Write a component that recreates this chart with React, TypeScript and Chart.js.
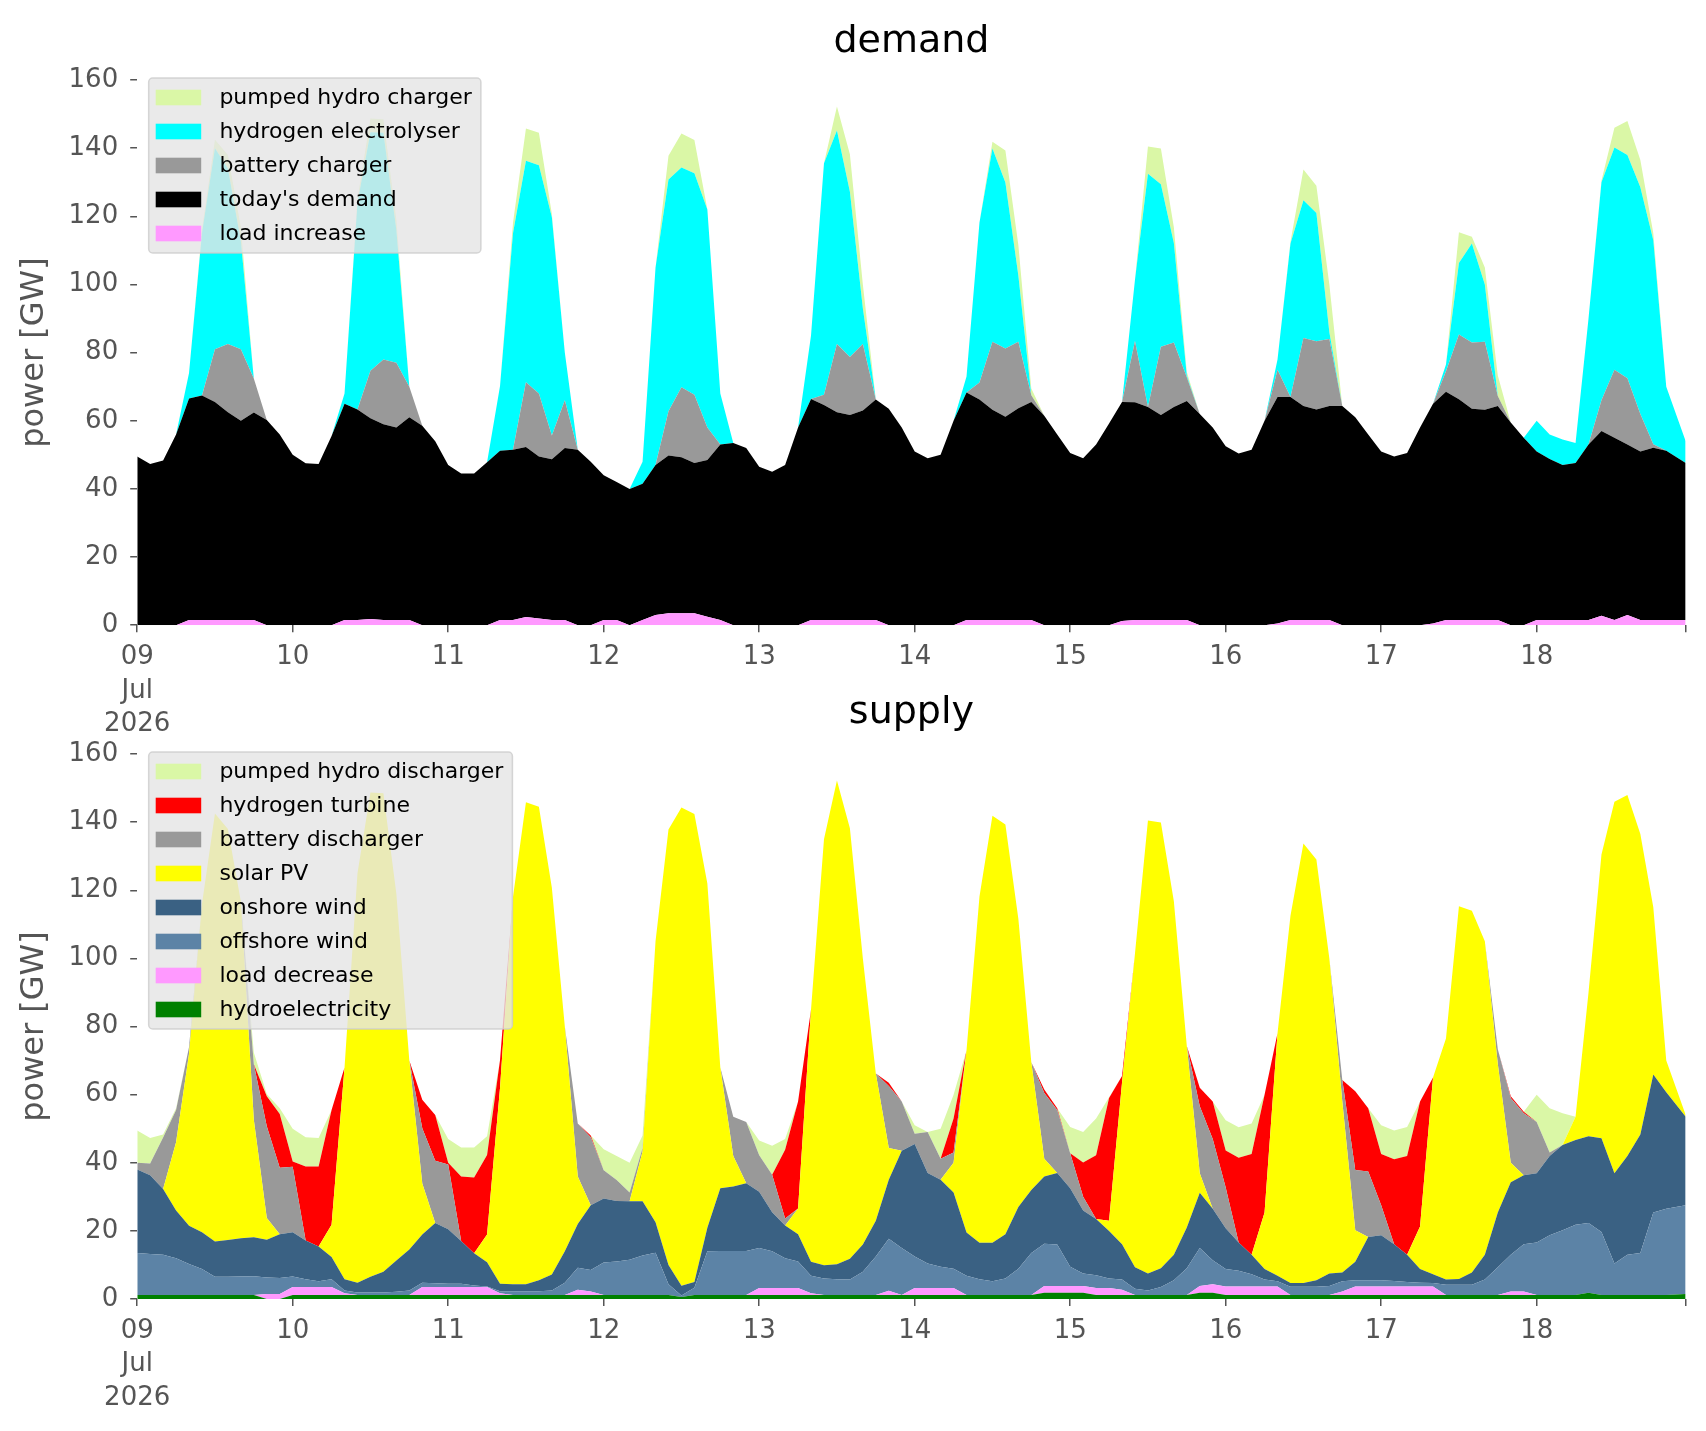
import React, { useEffect, useRef } from 'react';
import { Chart, registerables } from 'chart.js';

Chart.register(...registerables);

const FONT = "'DejaVu Sans', 'Liberation Sans', sans-serif";
Chart.defaults.font.family = FONT;

// time axis: hours since 09 Jul 2026 00:00, 2-hourly samples (last sample 18 Jul 23:00)
const HOURS: number[] = Array.from({ length: 120 }, (_, i) => (i === 119 ? 239 : i * 2));
const DAY_TICKS = [0, 24, 48, 72, 96, 120, 144, 168, 192, 216, 239];
const DAY_LABELS = ['09', '10', '11', '12', '13', '14', '15', '16', '17', '18'];
const FIRST_TICK_LABEL = ['09', 'Jul', '2026'];
const Y_TICKS_MAX = 160;
const Y_TICK_STEP = 20;

// ---------------- demand (GW) ----------------
const loadIncrease = [
  0, 0, 0, 0, 1.5, 1.5, 1.5, 1.5, 1.5, 1.5, 0, 0,
  0, 0, 0, 0, 1.5, 1.5, 1.8, 1.5, 1.5, 1.5, 0, 0,
  0, 0, 0, 0, 1.5, 1.5, 2.4, 2.0, 1.5, 1.5, 0, 0,
  1.5, 1.5, 0, 1.5, 3.0, 3.5, 3.5, 3.5, 2.5, 1.5, 0, 0,
  0, 0, 0, 0, 1.5, 1.5, 1.5, 1.5, 1.5, 1.5, 0, 0,
  0, 0, 0, 0, 1.5, 1.5, 1.5, 1.5, 1.5, 1.5, 0, 0,
  0, 0, 0, 0, 1.2, 1.5, 1.5, 1.5, 1.5, 1.5, 0, 0,
  0, 0, 0, 0, 0.5, 1.5, 1.5, 1.5, 1.5, 0, 0, 0,
  0, 0, 0, 0, 0.5, 1.5, 1.5, 1.5, 1.5, 1.5, 0, 0,
  1.5, 1.5, 1.5, 1.5, 1.5, 2.8, 1.5, 3.0, 1.5, 1.5, 1.5, 1.5,
];
const todaysDemand = [
  49.5, 47.3, 48.3, 56, 65, 65.9, 64, 61, 58.5, 60.9, 60.2, 56,
  50, 47.5, 47.3, 55.5, 63.5, 61.8, 58.9, 57.5, 56.5, 59.5, 58.5, 54,
  47, 44.5, 44.5, 47.8, 49.7, 50, 49.9, 47.5, 47.2, 50.5, 51.5, 48,
  42.5, 40.5, 40, 40, 44, 46.3, 45.8, 44.1, 46, 51.5, 53.5, 52,
  46.5, 45, 47, 58, 64.9, 63.1, 61, 60.2, 61.5, 64.7, 63.5, 58,
  51, 49, 50, 60, 66.8, 64.7, 61.7, 59.7, 62.2, 64, 61.5, 56,
  50.5, 49, 53, 59.2, 64.3, 63.9, 62.5, 60.2, 62.5, 64.3, 62, 58,
  52.5, 50.4, 51.5, 60, 66.5, 65.5, 62.8, 61.8, 62.8, 64.3, 61, 56,
  51, 49.5, 50.5, 58, 64.5, 67, 64.8, 62, 61.7, 62.8, 59.5, 55,
  49.5, 47.3, 45.5, 46.1, 51.5, 54.2, 53.5, 50, 49.5, 50.6, 49.7, 46.1,
];
const batteryCharger = [
  0, 0, 0, 0, 0, 0, 15.5, 20, 21, 10, 0, 0,
  0, 0, 0, 0, 0, 0, 14, 19, 19, 9, 0, 0,
  0, 0, 0, 0, 0, 0, 19, 18.5, 7, 14, 0, 0,
  0, 0, 0, 0, 0, 13, 20.5, 20, 9.5, 0, 0, 0,
  0, 0, 0, 0, 0, 3, 20, 17, 19.5, 0, 0, 0,
  0, 0, 0, 0, 0, 5, 20, 20, 19.5, 2, 0, 0,
  0, 0, 0, 0, 0, 18, 0, 20, 19, 7, 0, 0,
  0, 0, 0, 0, 8, 0, 20, 20, 19.7, 0, 0, 0,
  0, 0, 0, 0, 0, 6, 19, 19.5, 20, 3, 0, 0,
  0, 0, 0, 0, 0, 9, 20, 19.5, 11, 1, 0, 0,
];
const hydrogenElectrolyser = [
  0, 0, 0, 0, 7.5, 47.6, 59, 51.5, 31.7, 0, 0, 0,
  0, 0, 0, 0, 3, 60.7, 70, 66.5, 39, 0, 0, 0,
  0, 0, 0, 0, 19, 63.5, 65, 67, 64, 14, 0, 0,
  0, 0, 0, 6.5, 58, 68, 64.5, 65, 64, 15, 0, 0,
  0, 0, 0, 0, 18.6, 68, 62.7, 48.5, 10.5, 0, 0, 0,
  0, 0, 0, 0, 4.7, 47, 56.7, 48.7, 19.4, 0, 0, 0,
  0, 0, 0, 0, 0, 18, 68.5, 47.7, 29.2, 0.5, 0, 0,
  0, 0, 0, 0, 3, 45, 40.4, 37.7, 2, 0, 0, 0,
  0, 0, 0, 0, 0, 2, 21, 29, 16.8, 0, 0, 0,
  9, 7.2, 7.5, 5.9, 37, 64, 65.2, 65.5, 66.5, 59.9, 18.8, 6.4,
];
const pumpedHydroCharger = [
  0, 0, 0, 0, 0, 1, 2.5, 4, 4, 0, 0, 0,
  0, 0, 0, 0, 0, 1, 4, 4, 3, 0, 0, 0,
  0, 0, 0, 0, 0, 3, 9.5, 9.5, 1, 0, 0, 0,
  0, 0, 0, 0, 0, 7, 10, 9.8, 0, 0, 0, 0,
  0, 0, 0, 0, 0, 0, 7, 11, 7, 0, 0, 0,
  0, 0, 0, 0, 0, 0, 2, 9.4, 9, 2, 0, 0,
  0, 0, 0, 0, 0, 0, 8, 10.5, 4.6, 1, 0, 0,
  0, 0, 0, 0, 0, 0.5, 9, 8, 14, 0, 0, 0,
  0, 0, 0, 0, 0, 0, 9, 2, 5, 6, 0, 0,
  0, 0, 0, 0, 0, 0.5, 5.8, 10, 8, 2, 0, 0,
];

// ---------------- supply (GW) ----------------
const hydroelectricity = [
  1.2, 1.2, 1.2, 1.2, 1.2, 1.2, 1.2, 1.2, 1.2, 1.2, 0, 0,
  1.2, 1.2, 1.2, 1.2, 1.2, 1.2, 1.2, 1.2, 1.2, 1.2, 1.2, 1.2,
  1.2, 1.2, 1.2, 1.2, 1.2, 1.2, 1.2, 1.2, 1.2, 1.2, 1.2, 1.2,
  1.2, 1.2, 1.2, 1.2, 1.2, 1.2, 0.6, 1.2, 1.2, 1.2, 1.2, 1.2,
  1.2, 1.2, 1.2, 1.2, 1.2, 1.2, 1.2, 1.2, 1.2, 1.2, 1.2, 1.2,
  1.2, 1.2, 1.2, 1.2, 1.2, 1.2, 1.2, 1.2, 1.2, 1.2, 1.8, 1.8,
  1.8, 1.8, 1.2, 1.2, 1.2, 1.2, 1.2, 1.2, 1.2, 1.2, 1.8, 1.8,
  1.2, 1.2, 1.2, 1.2, 1.2, 1.2, 1.2, 1.2, 1.2, 1.2, 1.2, 1.2,
  1.2, 1.2, 1.2, 1.2, 1.2, 1.2, 1.2, 1.2, 1.2, 1.2, 1.2, 1.2,
  1.2, 1.2, 1.2, 1.2, 1.8, 1.2, 1.2, 1.2, 1.2, 1.2, 1.2, 1.5,
];
const loadDecrease = [
  0, 0, 0, 0, 0, 0, 0, 0, 0, 0, 1.5, 1.5,
  2.3, 2.3, 2.3, 2.3, 0.5, 0, 0, 0, 0, 0, 2.3, 2.3,
  2.3, 2.3, 2.3, 2.3, 0.5, 0, 0, 0, 0, 0, 1.5, 1,
  0, 0, 0, 0, 0, 0, 0, 0, 0, 0, 0, 0,
  2, 2, 2, 2, 0.5, 0, 0, 0, 0, 0, 1.2, 0,
  2, 2, 2, 2, 0, 0, 0, 0, 0, 0, 2, 2,
  2, 2, 2, 2, 1.5, 0, 0, 0, 0, 0, 2, 2.5,
  2.5, 2.5, 2.5, 2.5, 2.5, 0, 0, 0, 0, 1, 2.5, 2.5,
  2.5, 2.5, 2.5, 2.5, 2.5, 0, 0, 0, 0, 0, 1, 1,
  0, 0, 0, 0, 0, 0, 0, 0, 0, 0, 0, 0,
];
const offshoreWind = [
  12.3, 12, 11.8, 10.8, 9.1, 7.6, 5.3, 5.3, 5.4, 5.5, 4.8, 4.7,
  3.1, 2.3, 1.7, 2.3, 0.8, 0.7, 0.7, 0.7, 0.9, 1.3, 1.3, 1.1,
  1, 1, 0.5, 0.2, 0.6, 1.1, 1.1, 1.1, 1.3, 3.6, 6.5, 6.3,
  9.5, 9.8, 10.3, 11.6, 12.4, 3.1, 0.4, 2.1, 12.8, 12.9, 12.9, 12.9,
  11.8, 10.8, 8.8, 7.8, 5.1, 4.8, 4.6, 4.5, 6.8, 11.3, 15.3, 13.8,
  9.3, 7.2, 6.3, 5.7, 5.6, 4.6, 4, 4.8, 7.7, 12.3, 12.4, 12.2,
  5.7, 3.7, 3.8, 2.8, 3, 1.8, 1.3, 2.3, 4.3, 7.8, 11.2, 7.1,
  5.1, 4.6, 3.6, 2, 1.5, 2.4, 2.4, 2.4, 2.6, 3, 1.8, 1.8,
  1.8, 1.6, 1.3, 1.1, 1, 3, 3, 3, 4.5, 8.1, 10.8, 13.9,
  15.4, 17.5, 19, 20.6, 20.5, 18.5, 9.2, 11.8, 12.3, 24.2, 25.3, 26,
];
const onshoreWind = [
  24.5, 23.1, 19.3, 14, 11.2, 10.8, 10.4, 10.8, 11.2, 11.4, 11.1, 12.8,
  13, 11.4, 10.2, 6.5, 3.3, 2.9, 4.6, 6.1, 9.2, 12, 14.1, 17.7,
  16, 12.5, 9.4, 7.1, 2.2, 2, 2, 3.2, 4.7, 9.2, 12.8, 19,
  18.8, 17.8, 17.2, 15.9, 8.9, 5.7, 2.9, 1.7, 6.9, 18.4, 18.9, 19.9,
  16.5, 11.5, 9.6, 8, 4.1, 3.9, 4.4, 6.1, 8, 10.5, 17.3, 28.5,
  33, 26.6, 25.5, 22.4, 12.7, 10.7, 11.3, 13, 18.1, 18.5, 19.8, 21,
  23, 18.5, 16.5, 14, 10.4, 6.3, 5, 5.5, 7.5, 12, 16.2, 15.1,
  12, 8.3, 5.7, 3.1, 1.6, 1.1, 1.1, 1.9, 3.7, 2.6, 5.4, 12.7,
  13.2, 10.8, 8, 4, 2.6, 1.5, 1.7, 3.6, 7.3, 16.1, 21.3, 20.2,
  20.3, 23.3, 25, 24.9, 25.5, 27.5, 26.5, 29, 34.8, 40.5, 34.2, 26,
];
const solarPV = [
  0, 0, 0, 20, 50.5, 96.4, 125.6, 120.7, 98.9, 34.5, 6.4, 0,
  0, 0, 0, 9.5, 62.2, 120.2, 142.2, 140.5, 107.7, 55.5, 15, 0,
  0, 0, 0, 8.1, 57.5, 113.7, 141.5, 139, 113.5, 66, 14, 0,
  0, 0, 0, 14.6, 82.5, 127.8, 140.4, 137.4, 101.1, 35.5, 9, 0,
  0, 0, 0, 7.6, 74.1, 125.1, 142, 126.4, 84, 43.2, 9.3, 0,
  0, 0, 0, 8.7, 53.5, 101.7, 125.4, 120.3, 84.6, 37.5, 5.2, 0,
  0, 0, 0, 3, 47.4, 92.1, 133, 130.9, 103.8, 53.3, 5.7, 0,
  0, 0, 0, 16.6, 71.2, 107.8, 129, 123.5, 92.5, 50.2, 9.3, 0,
  0, 0, 0, 12.5, 57.7, 70.8, 109.4, 106.2, 92, 43.6, 5.7, 0,
  0, 0, 0, 6.8, 42.2, 83.3, 109.1, 106, 88.2, 49.1, 9.3, 0.5,
];
const batteryDischarger = [
  2, 3.5, 15.1, 9.5, 2, 0, 0, 0, 0, 16.3, 26.9, 19.5,
  19.2, 0, 0, 0, 0, 0, 0, 0, 0, 0, 16.2, 18.3,
  19, 0, 0, 0, 0, 0, 0, 0, 0, 0, 15.5, 20,
  8.3, 6.1, 2.6, 1, 0, 0, 0, 0, 0, 0, 11.5, 18,
  10.7, 11, 2, 0, 0, 0, 0, 0, 0, 0, 18.2, 14.5,
  3, 12, 6.2, 3, 0, 0, 0, 0, 0, 0, 19.3, 18.5,
  10.3, 4, 0, 0, 0, 0, 0, 0, 0, 0, 19.7, 20.5,
  11.9, 0, 0, 0, 0, 0, 0, 0, 0, 6.3, 17.7, 19.2,
  8.8, 0, 0, 0, 0, 0, 0, 0, 0, 4.3, 19, 18.2,
  15.1, 1, 0, 0, 0, 0, 0, 0, 0, 0, 0, 0,
];
const hydrogenTurbine = [
  0, 0, 0, 0, 0, 0, 0, 0, 0, 0, 8.8, 15.8,
  1.6, 21.7, 23.5, 33.7, 0, 0, 0, 0, 0, 0, 8.4, 13.4,
  0.5, 19, 22.3, 23.4, 8.2, 0, 0, 0, 0, 0, 0, 0.5,
  0, 0, 0, 0, 0, 0, 0, 0, 0, 0, 0, 0,
  0, 0, 20.2, 31.4, 0, 0, 0, 0, 0, 0, 1, 0,
  0, 0, 0, 10, 0, 0, 0, 0, 0, 0, 1, 0.5,
  0, 10.1, 18.7, 36, 2, 0, 0, 0, 0, 0, 5.4, 11,
  10.9, 24.9, 29.6, 34.6, 0, 0, 0, 0, 0, 0, 23.1, 18.6,
  15.1, 24.9, 29, 36.7, 0, 0, 0, 0, 0, 0, 0.5, 0.5,
  0, 0, 0, 0, 0, 0, 0, 0, 0, 0, 0, 0,
];
const pumpedHydroDischarger = [
  9.5, 7.5, 0.9, 0.5, 0, 0, 0, 0, 0, 3.5, 0.7, 1.7,
  9.6, 8.6, 8.4, 0, 0, 0, 0, 0, 0, 0, 0, 0,
  7, 8.5, 8.8, 5.5, 0, 0, 0, 0, 0, 0, 0, 0,
  6.2, 7.1, 8.7, 3.7, 0, 0, 0, 0, 0, 0, 0, 0,
  4.3, 8.5, 3.2, 0, 0, 0, 0, 0, 0, 0, 0, 0,
  2.5, 0, 8.8, 7, 0, 0, 0, 0, 0, 0, 0, 0,
  7.7, 8.9, 10.8, 0.2, 0, 0, 0, 0, 0, 0, 0, 0,
  8.9, 8.9, 8.9, 0, 0, 0, 0, 0, 0, 0, 0, 0,
  8.4, 8.5, 8.5, 0, 0, 0, 0, 0, 0, 0, 0, 0,
  8, 13, 9.3, 0, 0, 0, 0, 0, 0, 0, 0, 0,
];

// stacking order: bottom first
const DEMAND_SERIES: [string, number[], string][] = [
  ['load increase', loadIncrease, '#ff99ff'],
  ["today's demand", todaysDemand, '#000000'],
  ['battery charger', batteryCharger, '#999999'],
  ['hydrogen electrolyser', hydrogenElectrolyser, '#00ffff'],
  ['pumped hydro charger', pumpedHydroCharger, '#daf7a6'],
];
const SUPPLY_SERIES: [string, number[], string][] = [
  ['hydroelectricity', hydroelectricity, '#008000'],
  ['load decrease', loadDecrease, '#ff99ff'],
  ['offshore wind', offshoreWind, '#5c83a6'],
  ['onshore wind', onshoreWind, '#3a6183'],
  ['solar PV', solarPV, '#ffff00'],
  ['battery discharger', batteryDischarger, '#999999'],
  ['hydrogen turbine', hydrogenTurbine, '#ff0000'],
  ['pumped hydro discharger', pumpedHydroDischarger, '#daf7a6'],
];

const W = 1706;

const overlayPlugin = {
  id: 'overlay',
  afterDraw(chart: any, _args: any, o: any) {
    const { ctx, chartArea: a } = chart;
    ctx.save();
    // title
    ctx.fillStyle = '#000000';
    ctx.font = `38px ${FONT}`;
    ctx.textAlign = 'center';
    ctx.textBaseline = 'alphabetic';
    ctx.fillText(o.title, (a.left + a.right) / 2, a.top - o.titleGap);
    // y label
    ctx.save();
    ctx.translate(35, (a.top + a.bottom) / 2);
    ctx.rotate(-Math.PI / 2);
    ctx.fillStyle = '#555555';
    ctx.font = `32px ${FONT}`;
    ctx.textAlign = 'center';
    ctx.textBaseline = 'middle';
    ctx.fillText(o.yLabel, 0, 0);
    ctx.restore();
    // legend (inside, upper left, semi-transparent)
    const items = chart.data.datasets
      .map((d: any) => ({ label: d.label, color: d.backgroundColor }))
      .reverse();
    ctx.font = `22px ${FONT}`;
    const maxW = Math.max(...items.map((it: any) => ctx.measureText(it.label).width));
    const x0 = a.left + 11.5;
    const y0 = a.top - 2;
    const rowH = 34;
    const w = 70.7 + maxW + 9;
    const h = 39 + rowH * (items.length - 1);
    const r = 4;
    ctx.beginPath();
    ctx.moveTo(x0 + r, y0);
    ctx.lineTo(x0 + w - r, y0);
    ctx.arcTo(x0 + w, y0, x0 + w, y0 + r, r);
    ctx.lineTo(x0 + w, y0 + h - r);
    ctx.arcTo(x0 + w, y0 + h, x0 + w - r, y0 + h, r);
    ctx.lineTo(x0 + r, y0 + h);
    ctx.arcTo(x0, y0 + h, x0, y0 + h - r, r);
    ctx.lineTo(x0, y0 + r);
    ctx.arcTo(x0, y0, x0 + r, y0, r);
    ctx.closePath();
    ctx.fillStyle = 'rgba(229,229,229,0.8)';
    ctx.fill();
    ctx.strokeStyle = 'rgba(204,204,204,0.8)';
    ctx.lineWidth = 1.5;
    ctx.stroke();
    items.forEach((it: any, k: number) => {
      const cy = y0 + 19.5 + k * rowH;
      ctx.fillStyle = it.color;
      ctx.fillRect(x0 + 7, cy - 7.8, 45.5, 15.6);
      ctx.fillStyle = '#000000';
      ctx.textAlign = 'left';
      ctx.textBaseline = 'middle';
      ctx.fillText(it.label, x0 + 70.7, cy + 1);
    });
    ctx.restore();
  },
};

function buildConfig(series: [string, number[], string][], title: string, padTop: number, xH: number, titleGap: number) {
  return {
    type: 'line' as const,
    data: {
      datasets: series.map(([label, values, color], idx) => ({
        label,
        data: HOURS.map((h, i) => ({ x: h, y: values[i] })),
        backgroundColor: color,
        borderColor: 'rgba(0,0,0,0)',
        borderWidth: 0,
        pointRadius: 0,
        tension: 0,
        fill: idx === 0 ? 'origin' : '-1',
      })),
    },
    options: {
      animation: false,
      responsive: false,
      devicePixelRatio: 1,
      layout: { padding: { left: 0, right: W - 1685.7, top: padTop, bottom: 0 } },
      plugins: {
        legend: { display: false },
        tooltip: { enabled: false },
        title: { display: false },
        overlay: { title, yLabel: 'power [GW]', titleGap },
      },
      scales: {
        x: {
          type: 'linear',
          min: 0,
          max: 239,
          afterFit: (s: any) => {
            s.height = xH;
          },
          afterBuildTicks: (s: any) => {
            s.ticks = DAY_TICKS.map((v) => ({ value: v }));
          },
          ticks: {
            autoSkip: false,
            maxRotation: 0,
            minRotation: 0,
            padding: 8,
            color: '#555555',
            font: { family: FONT, size: 26, lineHeight: 1.3 },
            callback: (v: any) => {
              if (v === 0) return FIRST_TICK_LABEL;
              if (v === 239) return '';
              return DAY_LABELS[Math.round(v / 24)];
            },
          },
          grid: { drawOnChartArea: false, drawTicks: true, tickLength: 7, color: '#555555', lineWidth: 1.5 },
          border: { display: false },
        },
        y: {
          stacked: true,
          min: 0,
          max: Y_TICKS_MAX,
          afterFit: (s: any) => {
            s.width = 137.2;
          },
          ticks: {
            stepSize: Y_TICK_STEP,
            padding: 12,
            color: '#555555',
            font: { family: FONT, size: 26 },
          },
          grid: { drawOnChartArea: false, drawTicks: true, tickLength: 7, color: '#555555', lineWidth: 1.5 },
          border: { display: false },
        },
      },
    },
    plugins: [overlayPlugin],
  };
}

function StackChart(props: {
  series: [string, number[], string][];
  title: string;
  top: number;
  height: number;
  padTop: number;
  xH: number;
  titleGap: number;
}) {
  const ref = useRef<HTMLCanvasElement>(null);
  useEffect(() => {
    const chart = new Chart(
      ref.current as HTMLCanvasElement,
      buildConfig(props.series, props.title, props.padTop, props.xH, props.titleGap) as any
    );
    return () => chart.destroy();
  }, []);
  return (
    <canvas
      ref={ref}
      width={W}
      height={props.height}
      style={{ position: 'absolute', left: 0, top: props.top, width: W, height: props.height }}
    />
  );
}

export default function App() {
  return (
    <div style={{ position: 'absolute', left: 0, top: 0, width: W, height: 1431, background: '#ffffff', overflow: 'hidden' }}>
      <StackChart series={SUPPLY_SERIES} title="supply" top={680} height={751} padTop={74} xH={132} titleGap={31} />
      <StackChart series={DEMAND_SERIES} title="demand" top={0} height={760} padTop={80} xH={134.8} titleGap={28} />
    </div>
  );
}
